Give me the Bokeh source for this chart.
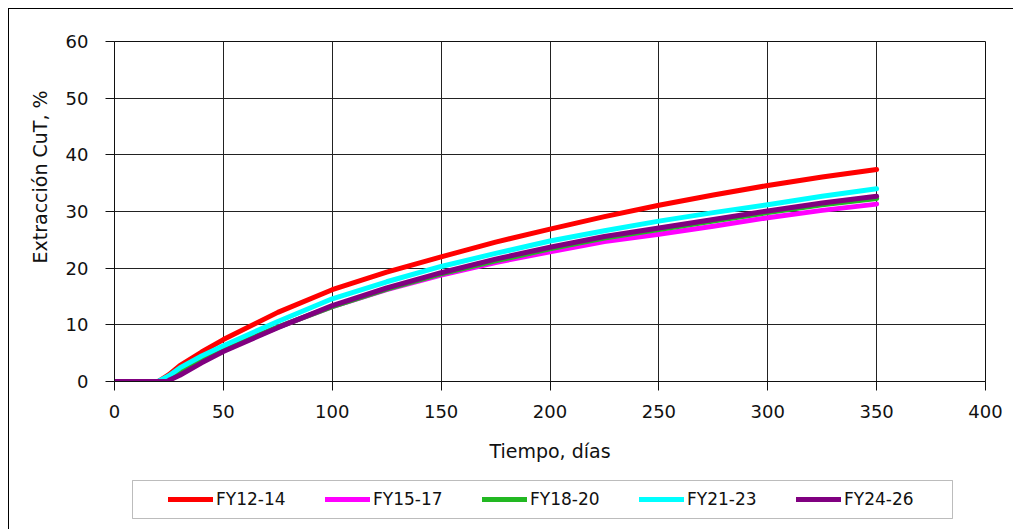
from bokeh.plotting import figure
from bokeh.models import Range1d, Legend, LegendItem, FixedTicker, BoxAnnotation
from bokeh.layouts import column
from bokeh.embed import file_html
from bokeh.resources import INLINE

# ---- data ----
days = [0, 20, 25, 30, 40, 50, 75, 100, 125, 150, 175, 200, 225, 250, 275, 300, 325, 350]
days_p = [0, 24, 25, 30, 40, 50, 75, 100, 125, 150, 175, 200, 225, 250, 275, 300, 325, 350]
fy12_14 = [0, 0, 1.2, 2.8, 5.2, 7.4, 12.2, 16.2, 19.3, 22.0, 24.6, 26.9, 29.1, 31.1, 32.9, 34.6, 36.1, 37.4]
fy15_17 = [0, 0, 0.6, 1.6, 3.8, 5.6, 9.6, 13.2, 16.2, 18.8, 21.0, 22.9, 24.7, 26.0, 27.4, 28.9, 30.2, 31.3]
fy18_20 = [0, 0, 0.7, 1.8, 3.9, 5.6, 9.6, 13.2, 16.3, 19.0, 21.3, 23.4, 25.3, 26.8, 28.3, 29.8, 31.2, 32.3]
fy21_23 = [0, 0, 1.0, 2.4, 4.5, 6.3, 10.6, 14.6, 17.6, 20.3, 22.6, 24.8, 26.6, 28.3, 29.8, 31.2, 32.7, 34.0]
fy24_26 = [0, 0, 0.2, 1.1, 3.3, 5.3, 9.5, 13.4, 16.5, 19.2, 21.6, 23.7, 25.6, 27.1, 28.6, 30.1, 31.5, 32.7]

series_names = ["FY12-14", "FY15-17", "FY18-20", "FY21-23", "FY24-26"]
series_x = [days, days, days, days, days_p]
series_y = [fy12_14, fy15_17, fy18_20, fy21_23, fy24_26]
colors = ["#FF0000", "#FF00FF", "#22B822", "#00FFFF", "#800080"]

x_ticks = [0, 50, 100, 150, 200, 250, 300, 350, 400]
y_ticks = [0, 10, 20, 30, 40, 50, 60]

FONT = "DejaVu Sans"
BL, BR = 105, 28

# ---- main chart ----
p = figure(width=1004, height=462, output_backend="svg", toolbar_location=None,
           x_range=Range1d(0, 400), y_range=Range1d(0, 60),
           title="Extracción CuT, %", title_location="left",
           min_border_left=BL, min_border_right=BR, min_border_top=32, min_border_bottom=90)
p.background_fill_color = "white"
p.border_fill_color = "white"
p.outline_line_color = "#111"
p.outline_line_width = 1

# y-axis caption (placed as a left title so it can sit higher, like the original)
p.title.text_font = FONT
p.title.text_font_size = "19px"
p.title.text_font_style = "normal"
p.title.text_color = "#111"
p.title.align = "left"
p.title.offset = 118
p.title.standoff = 24

for ax in (p.xaxis[0], p.yaxis[0]):
    ax.axis_line_color = "#111"
    ax.major_tick_line_color = "#111"
    ax.major_tick_out = 9
    ax.major_tick_in = 0
    ax.minor_tick_line_color = None
    ax.major_label_text_font = FONT
    ax.major_label_text_font_size = "18px"
    ax.major_label_text_color = "#111"
    ax.axis_label_text_font = FONT
    ax.axis_label_text_font_size = "19px"
    ax.axis_label_text_font_style = "normal"
    ax.axis_label_text_color = "#111"

p.xaxis[0].ticker = FixedTicker(ticks=x_ticks)
p.yaxis[0].ticker = FixedTicker(ticks=y_ticks)
p.xaxis[0].axis_label = "Tiempo, días"
p.xaxis[0].major_label_standoff = 14
p.yaxis[0].major_label_standoff = 17
p.xaxis[0].axis_label_standoff = 19

p.xgrid.ticker = FixedTicker(ticks=x_ticks)
p.ygrid.ticker = FixedTicker(ticks=y_ticks)
for g in (p.xgrid[0], p.ygrid[0]):
    g.grid_line_color = "#222"
    g.grid_line_width = 1

for xs, ys, c in zip(series_x, series_y, colors):
    p.line(xs, ys, line_color=c, line_width=5, line_cap="round", line_join="round")

# ---- legend strip ----
lg = figure(width=1004, height=58, output_backend="svg", toolbar_location=None,
            x_range=Range1d(1000, 1001), y_range=Range1d(1000, 1001),
            x_axis_type=None, y_axis_type=None,
            min_border_left=BL, min_border_right=BR, min_border_top=4, min_border_bottom=4)
lg.grid.visible = False
lg.background_fill_color = "white"
lg.border_fill_color = "white"
lg.outline_line_color = None

box = BoxAnnotation(left=18, right=838, bottom=7, top=45,
                    left_units="screen", right_units="screen",
                    bottom_units="screen", top_units="screen",
                    fill_alpha=0, line_color="#222", line_width=1)
lg.add_layout(box)

items = []
for name, xs, ys, c in zip(series_names, series_x, series_y, colors):
    r = lg.line(xs, ys, line_color=c, line_width=5, line_cap="round")
    items.append(LegendItem(label=name, renderers=[r]))

legend = Legend(items=items, orientation="horizontal", location=(54, 16),
                padding=0, spacing=9, glyph_width=45, glyph_height=20,
                label_standoff=3, label_width=100,
                label_text_font=FONT, label_text_font_size="17px", label_text_color="#111",
                border_line_alpha=0, background_fill_alpha=0)
lg.add_layout(legend, "center")

layout = column(p, lg, spacing=0)
layout.styles = {"margin-left": "8px", "margin-top": "8px",
                 "border-left": "1px solid #000", "border-top": "1px solid #000"}

open("out.html", "w").write(file_html(layout, INLINE))
